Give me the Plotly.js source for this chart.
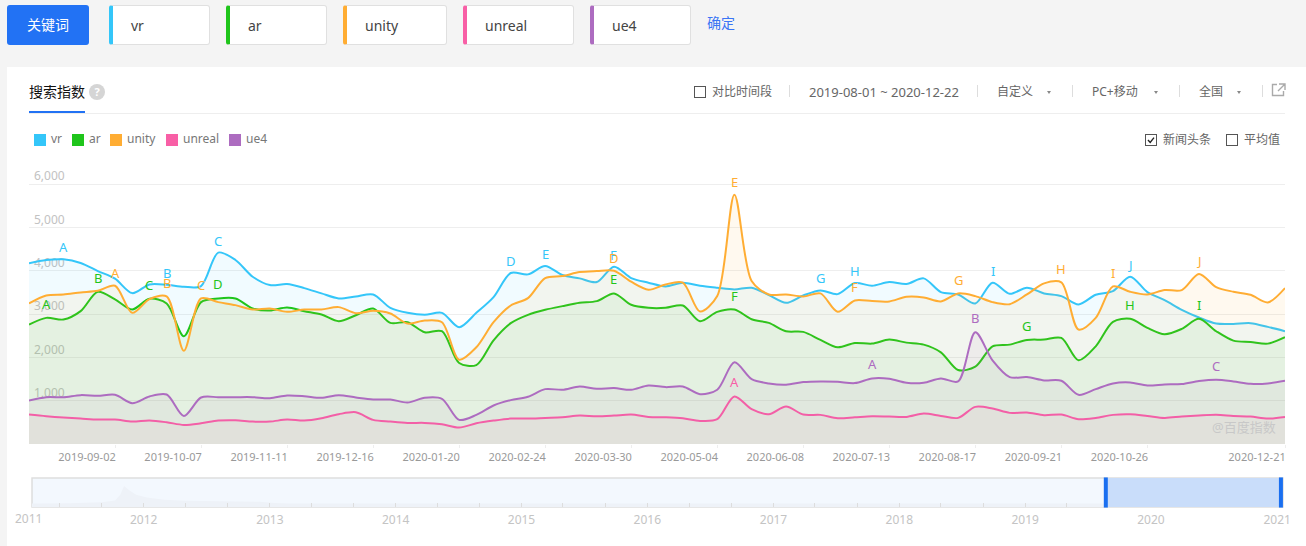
<!DOCTYPE html>
<html><head><meta charset="utf-8">
<script src="https://cdn.plot.ly/plotly-3.0.1.min.js"></script>
<style>
html,body{margin:0;padding:0;width:1306px;height:546px;overflow:hidden;background:#f4f4f4;font-family:"Noto Sans","Noto Sans CJK SC",sans-serif;}
.a{position:absolute;white-space:nowrap;}
#panel{position:absolute;left:7px;top:67px;width:1299px;height:479px;background:#fff;}
#btn{left:7px;top:5px;width:82px;height:40px;background:#2272f4;border-radius:3px;color:#fff;font-size:14px;line-height:40px;text-align:center;}
.kw{position:absolute;top:5px;height:38px;background:#fff;border:1px solid #e0e0e0;border-left:4px solid;border-radius:3px;box-sizing:content-box;color:#444;font-size:14px;line-height:40px;padding-left:18px;}
.t{color:#666;font-size:12px;line-height:16px;}
.sep{position:absolute;top:85px;width:1px;height:12px;background:#ddd;}
.cb{position:absolute;width:10px;height:10px;border:1px solid #555;background:#fff;}
.tri{position:absolute;top:91px;width:0;height:0;border-left:2.5px solid transparent;border-right:2.5px solid transparent;border-top:3.5px solid #888;}
.sq{position:absolute;top:134px;width:12px;height:12px;}
.lg{position:absolute;top:131px;color:#777;font-size:12px;line-height:16px;white-space:nowrap;}
#plot{position:absolute;left:0;top:0;width:1306px;height:546px;}
</style></head><body>
<div id="panel"></div>
<div class="a" id="btn">关键词</div>
<div class="kw" style="left:109px;width:78px;border-left-color:#34c6f9">vr</div>
<div class="kw" style="left:226px;width:78px;border-left-color:#1fc51b">ar</div>
<div class="kw" style="left:343px;width:81px;border-left-color:#ffad33">unity</div>
<div class="kw" style="left:463px;width:88px;border-left-color:#f85fa6">unreal</div>
<div class="kw" style="left:590px;width:78px;border-left-color:#ad6cc0">ue4</div>
<div class="a" style="left:707px;top:13px;color:#3a75f5;font-size:14px;line-height:20px">确定</div>

<div class="a" style="left:29px;top:82px;color:#111;font-size:14px;line-height:20px">搜索指数</div>
<div class="a" style="left:89px;top:84px;width:16px;height:16px;border-radius:50%;background:#d5d5d5;color:#fff;font-size:11px;font-weight:bold;line-height:16px;text-align:center">?</div>
<div class="a" style="left:29px;top:113px;width:1256px;height:1px;background:#eee"></div>
<div class="a" style="left:29px;top:111px;width:56px;height:2px;background:#2272f4"></div>

<div class="cb" style="left:694px;top:86px"></div>
<div class="a t" style="left:712px;top:84px">对比时间段</div>
<div class="sep" style="left:789px"></div>
<div class="a t" style="left:809px;top:84px;font-size:13px">2019-08-01 ~ 2020-12-22</div>
<div class="sep" style="left:977px"></div>
<div class="a t" style="left:997px;top:84px">自定义</div>
<div class="tri" style="left:1047px"></div>
<div class="sep" style="left:1072px"></div>
<div class="a t" style="left:1092px;top:84px">PC+移动</div>
<div class="tri" style="left:1154px"></div>
<div class="sep" style="left:1179px"></div>
<div class="a t" style="left:1199px;top:84px">全国</div>
<div class="tri" style="left:1237px"></div>
<div class="sep" style="left:1262px"></div>
<svg class="a" style="left:1271px;top:83px" width="15" height="14" viewBox="0 0 15 14"><path d="M6 1.5H1.5V12.5H12.5V8M8 1H14V7M14 1L7 8" fill="none" stroke="#aaa" stroke-width="1.4"/></svg>

<div class="sq" style="left:34px;background:#34c6f9"></div><div class="lg" style="left:51px">vr</div>
<div class="sq" style="left:72px;background:#1fc51b"></div><div class="lg" style="left:89px">ar</div>
<div class="sq" style="left:110px;background:#ffad33"></div><div class="lg" style="left:127px">unity</div>
<div class="sq" style="left:166px;background:#f85fa6"></div><div class="lg" style="left:183px">unreal</div>
<div class="sq" style="left:229px;background:#ad6cc0"></div><div class="lg" style="left:246px">ue4</div>

<div class="cb" style="left:1145px;top:134px"><svg width="10" height="10" viewBox="0 0 10 10" style="display:block"><path d="M2 5L4.2 7.4L8 2.6" fill="none" stroke="#222" stroke-width="1.4"/></svg></div>
<div class="a t" style="left:1163px;top:132px">新闻头条</div>
<div class="cb" style="left:1226px;top:134px"></div>
<div class="a t" style="left:1244px;top:132px">平均值</div>

<div id="plot"></div>
<script>
const dates = ["2019-07-29","2019-08-05","2019-08-12","2019-08-19","2019-08-26","2019-09-02","2019-09-09","2019-09-16","2019-09-23","2019-09-30","2019-10-07","2019-10-14","2019-10-21","2019-10-28","2019-11-04","2019-11-11","2019-11-18","2019-11-25","2019-12-02","2019-12-09","2019-12-16","2019-12-23","2019-12-30","2020-01-06","2020-01-13","2020-01-20","2020-01-27","2020-02-03","2020-02-10","2020-02-17","2020-02-24","2020-03-02","2020-03-09","2020-03-16","2020-03-23","2020-03-30","2020-04-06","2020-04-13","2020-04-20","2020-04-27","2020-05-04","2020-05-11","2020-05-18","2020-05-25","2020-06-01","2020-06-08","2020-06-15","2020-06-22","2020-06-29","2020-07-06","2020-07-13","2020-07-20","2020-07-27","2020-08-03","2020-08-10","2020-08-17","2020-08-24","2020-08-31","2020-09-07","2020-09-14","2020-09-21","2020-09-28","2020-10-05","2020-10-12","2020-10-19","2020-10-26","2020-11-02","2020-11-09","2020-11-16","2020-11-23","2020-11-30","2020-12-07","2020-12-14","2020-12-21"];
const vr = [4174,4251,4267,4182,3996,3819,3486,3687,3679,3633,3649,4422,4251,3865,3672,3695,3602,3479,3363,3409,3455,3146,3030,2984,3030,2698,3030,3393,3950,3919,4112,3904,3826,3741,4097,3834,3726,3641,3726,3656,3610,3571,3610,3440,3262,3432,3548,3463,3718,3656,3741,3695,3826,3509,3455,3247,3726,3471,3610,3479,3417,3223,3448,3533,3865,3509,3324,3100,2922,2783,2775,2791,2706,2605];
const ar = [2760,2914,2876,3069,3517,3339,3107,3355,3247,2489,3278,3363,3363,3131,3085,3154,3069,2992,2837,2976,3131,2798,2814,2582,2605,1871,1824,2396,2791,2984,3100,3185,3262,3301,3479,3216,3146,3146,3200,2837,3053,3107,2883,2798,2605,2590,2404,2234,2334,2319,2412,2342,2296,2118,1708,1786,2257,2296,2404,2412,2450,1933,2257,2821,2891,2682,2535,2659,2891,2605,2389,2358,2319,2466];
const unity = [3247,3432,3455,3502,3540,3656,3030,3347,3409,2157,3363,3278,3208,3107,3131,3053,3107,3107,3162,3022,3077,3015,2783,2852,2814,1948,2234,2814,3200,3370,3834,3880,3973,3996,4004,3749,3564,3687,3726,3061,3417,5759,3764,3455,3455,3409,3479,3053,3316,3301,3293,3401,3386,3293,3479,3417,3278,3231,3455,3710,3734,2644,2914,3641,3517,3455,3556,3556,3927,3625,3517,3448,3270,3602];
const unreal = [680,642,611,588,564,564,518,541,502,441,479,541,549,518,518,564,541,595,688,734,557,518,487,487,456,379,479,541,587,587,603,618,657,642,657,680,626,618,595,533,572,1098,804,688,866,680,673,595,618,642,634,626,703,649,603,858,819,719,727,665,680,572,603,673,688,649,603,634,657,673,649,634,587,626];
const ue4 = [1005,1082,1082,1129,1113,1136,943,1098,1144,649,1074,1082,1082,1082,1059,1121,1105,1067,1129,1074,1028,1028,959,1067,1044,557,673,889,1013,1090,1268,1252,1330,1275,1291,1252,1353,1314,1330,1152,1252,1886,1500,1399,1368,1430,1446,1438,1407,1515,1507,1415,1415,1515,1446,2582,1933,1546,1546,1469,1461,1136,1268,1399,1422,1353,1376,1384,1453,1484,1446,1391,1399,1461];

const seriesNames = ["vr","ar","unity","unreal","ue4"];
const lineColors = ["#34c6f9","#1fc51b","#ffad33","#f85fa6","#ad6cc0"];
const fillColors = ["rgba(52,198,249,0.07)","rgba(31,197,27,0.067)","rgba(255,173,51,0.08)","rgba(248,95,166,0.05)","rgba(173,108,192,0.06)"];

const vrNewsIdx = [2,8,11,28,30,34,46,48,56,64];
const vrNewsText = ["A","B","C","D","E","F","G","H","I","J"];
const arNewsIdx = [1,4,7,11,34,41,58,64,68];
const arNewsText = ["A","B","C","D","E","F","G","H","I"];
const unityNewsIdx = [5,8,10,34,41,48,54,60,63,68];
const unityNewsText = ["A","B","C","D","E","F","G","H","I","J"];
const unrealNewsIdx = [41];
const unrealNewsText = ["A"];
const ue4NewsIdx = [49,55,69];
const ue4NewsText = ["A","B","C"];
const newsLift = [12,14,13,14,14];

const xTickVals = ["2019-09-02","2019-10-07","2019-11-11","2019-12-16","2020-01-20","2020-02-24","2020-03-30","2020-05-04","2020-06-08","2020-07-13","2020-08-17","2020-09-21","2020-10-26","2020-12-21"];
const yTickVals = [1000,2000,3000,4000,5000,6000];
const yTickText = ["1,000","2,000","3,000","4,000","5,000","6,000"];

const navDates = ["2011-02-11","2011-06-01","2011-09-01","2011-10-10","2011-10-25","2011-11-05","2011-11-20","2011-12-10","2012-01-10","2012-03-01","2012-05-01","2012-08-01","2012-10-01","2012-12-01","2013-01-15","2013-03-01","2016-01-01","2021-01-18"];
const navValues = [500,520,650,900,1700,2900,2300,1700,1300,1000,850,800,750,720,550,500,500,500];
const navStart = "2019-08-23";
const navEnd = "2021-01-12";

const allSeries = [vr,ar,unity,unreal,ue4];
const newsIdx = [vrNewsIdx,arNewsIdx,unityNewsIdx,unrealNewsIdx,ue4NewsIdx];
const newsText = [vrNewsText,arNewsText,unityNewsText,unrealNewsText,ue4NewsText];

const traces = allSeries.map((s,k)=>({
  type:"scatter",mode:"lines",name:seriesNames[k],x:dates,y:s,xaxis:"x",yaxis:"y",
  line:{color:lineColors[k],width:2,shape:"spline",smoothing:0.85},
  fill:"tozeroy",fillcolor:fillColors[k],hoverinfo:"skip"
}));
traces.push({type:"scatter",mode:"lines",x:navDates,y:navValues,xaxis:"x2",yaxis:"y2",
  line:{color:"rgba(0,0,0,0)",width:0},fill:"tozeroy",fillcolor:"#eef2f8",hoverinfo:"skip"});

const annotations = [];
allSeries.forEach((s,k)=>newsIdx[k].forEach((ix,j)=>annotations.push({
  x:dates[ix],y:s[ix],xref:"x",yref:"y",text:newsText[k][j],showarrow:false,yshift:newsLift[k],
  font:{size:13,color:lineColors[k]}
})));
annotations.push({xref:"paper",yref:"y",x:0.9945,y:400,xanchor:"right",yanchor:"middle",showarrow:false,text:"@百度指数",font:{size:13,color:"#c8c8c8"}});
annotations.push({xref:"x2",yref:"y2 domain",x:"2011-02-11",y:0,xanchor:"center",yanchor:"top",xshift:-4,yshift:-1,showarrow:false,text:"2011",font:{size:12,color:"#c4c4c4"}});

const layout = {
  width:1306,height:546,margin:{l:29,r:21,t:182,b:39},
  paper_bgcolor:"rgba(0,0,0,0)",plot_bgcolor:"rgba(0,0,0,0)",showlegend:false,
  font:{family:'"Noto Sans","Noto Sans CJK SC",sans-serif'},
  xaxis:{type:"date",domain:[0,1],anchor:"y",range:[dates[0],dates[dates.length-1]],tickmode:"array",tickvals:xTickVals,tickformat:"%Y-%m-%d",
    showgrid:false,zeroline:false,showline:false,ticks:"outside",ticklen:3,tickcolor:"#eee",ticklabelshift:-28,
    tickfont:{size:11,color:"#999"}},
  yaxis:{domain:[0.19385,1],anchor:"x",range:[0,6053],tickmode:"array",tickvals:yTickVals,ticktext:yTickText,
    ticklabelposition:"inside",ticklabeloverflow:"allow",ticklabelshift:-8,ticklabelstandoff:2,layer:"below traces",
    showgrid:true,gridcolor:"#eeeeee",gridwidth:1,zeroline:false,showline:false,ticks:"",
    tickfont:{size:12,color:"#c2c2c2"}},
  xaxis2:{type:"date",domain:[0.0024,0.9984],anchor:"y2",range:["2011-02-11","2021-01-18"],dtick:"M12",tick0:"2012-01-01",tickformat:"%Y",
    showgrid:false,zeroline:false,showline:false,ticks:"inside",ticklen:4,tickcolor:"#ddd",ticklabelstandoff:4,
    minor:{dtick:"M4",tick0:"2011-01-01",ticks:"inside",ticklen:4,tickcolor:"#ddd",showgrid:false},
    tickfont:{size:12,color:"#c4c4c4"}},
  yaxis2:{domain:[0,0.0892],anchor:"x2",range:[0,4000],showticklabels:false,showgrid:false,zeroline:false,showline:false,ticks:""},
  shapes:[
    {type:"rect",xref:"x2 domain",yref:"y2 domain",x0:0,x1:1,y0:0,y1:1,layer:"below",fillcolor:"#f3f8fe",line:{color:"#dedede",width:1.5}},
    {type:"rect",xref:"x2",yref:"y2 domain",x0:navStart,x1:navEnd,y0:0,y1:1,layer:"above",fillcolor:"#c9ddfa",line:{width:0}},
    {type:"rect",xref:"x2",xsizemode:"pixel",xanchor:navStart,x0:-2,x1:2,yref:"y2 domain",y0:-0.02,y1:1.02,layer:"above",fillcolor:"#1a6ff0",line:{width:0}},
    {type:"rect",xref:"x2",xsizemode:"pixel",xanchor:navEnd,x0:-2,x1:2,yref:"y2 domain",y0:-0.02,y1:1.02,layer:"above",fillcolor:"#1a6ff0",line:{width:0}}
  ],
  annotations:annotations
};
Plotly.newPlot("plot",traces,layout,{displayModeBar:false,staticPlot:true});
</script>
</body></html>
